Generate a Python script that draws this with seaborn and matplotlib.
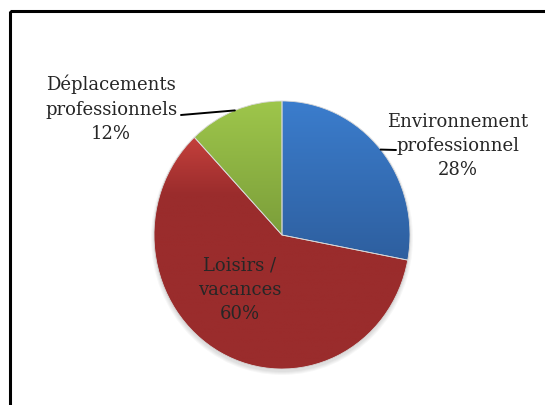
import numpy as np
import matplotlib.pyplot as plt
import seaborn as sns
from matplotlib.colors import LinearSegmentedColormap
from matplotlib.patches import Rectangle, Ellipse

# data
labels = ["Environnement\nprofessionnel", "Loisirs /\nvacances", "Déplacements\nprofessionnels"]
shares = [28, 60, 12]
top_colors = ["#3B7DCD", "#C4403C", "#9EC64B"]
bottom_colors = ["#2E5F9F", "#9A2C2C", "#7B9E3A"]

sns.set_style("white")
plt.rcParams['font.family'] = ['DejaVu Serif']

fig = plt.figure(figsize=(5.45, 4.05), dpi=100)

# background layer in pixel coordinates (frame, shadow)
bg = fig.add_axes([0, 0, 1, 1])
bg.set_xlim(0, 545)
bg.set_ylim(405, 0)
bg.axis('off')
bg.add_patch(Rectangle((10, 11), 600, 500, fill=False, lw=2.2, ec='black'))

# pie geometry (pixels)
cx, cy, rx, ry = 282, 235, 128, 134

# soft shadow under the pie
for k in range(4):
    bg.add_patch(Ellipse((cx, cy + 3), 2 * rx + 2 * k, 2 * ry + 2 * k,
                         fc='black', ec='none', alpha=0.03))

ax = fig.add_axes([(cx - rx) / 545, (405 - cy - ry) / 405, 2 * rx / 545, 2 * ry / 405])
ax.patch.set_visible(False)
wedges, _ = ax.pie(shares, startangle=90, counterclock=False, radius=1,
                   wedgeprops=dict(lw=0.6, ec='#d8d8d8'))

for w, c_top, c_bot in zip(wedges, top_colors, bottom_colors):
    th = np.radians(np.linspace(w.theta1, w.theta2, 200))
    ys = np.concatenate([np.sin(th), [0]])
    ymin, ymax = ys.min(), ys.max()
    cmap = LinearSegmentedColormap.from_list('g', [c_bot, c_top])
    grad = np.linspace(1, 0, 256).reshape(-1, 1)
    if c_top == top_colors[1]:
        grad = np.clip((grad - 0.75) / 0.25, 0, 1)
    im = ax.imshow(grad, extent=(-1, 1, ymin, ymax), cmap=cmap, vmin=0, vmax=1,
                   aspect='auto', origin='upper', zorder=w.get_zorder() - 0.1)
    im.set_clip_path(w)
    w.set_facecolor('none')

ax.set_aspect('auto')
ax.set_xlim(-1, 1)
ax.set_ylim(-1, 1)
ax.axis('off')

# top layer for labels and leader lines
top = fig.add_axes([0, 0, 1, 1])
top.set_xlim(0, 545)
top.set_ylim(405, 0)
top.axis('off')
top.patch.set_visible(False)

label_pos = [(458, 146), (240, 290), (111, 109)]
for lab, val, (tx, ty) in zip(labels, shares, label_pos):
    top.text(tx, ty, f"{lab}\n{val}%", ha='center', va='center', fontsize=13,
             color='#262626', linespacing=1.45)

# leader lines from slice edge to label
ends = [(396, 150), None, (181, 115)]
for w, end in zip(wedges, ends):
    if end is None:
        continue
    mid = np.radians((w.theta1 + w.theta2) / 2)
    sx, sy = cx + rx * np.cos(mid), cy - ry * np.sin(mid)
    top.plot([sx, end[0]], [sy, end[1]], color='black', lw=1.4)

fig.savefig("out.png", dpi=100)
